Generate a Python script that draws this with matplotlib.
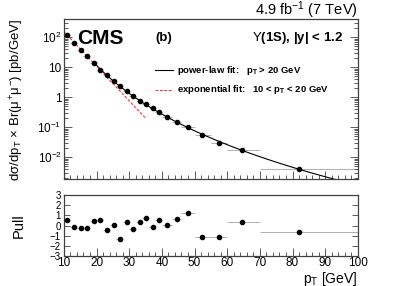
import numpy as np
import matplotlib
matplotlib.use("Agg")
from matplotlib import pyplot as plt
from matplotlib.ticker import MultipleLocator, LogLocator, FuncFormatter, NullFormatter

plt.rcParams['font.family'] = ['Liberation Sans', 'DejaVu Sans']
plt.rcParams['mathtext.fontset'] = 'custom'
plt.rcParams['mathtext.rm'] = 'Liberation Sans'
plt.rcParams['mathtext.it'] = 'Liberation Sans'
plt.rcParams['mathtext.bf'] = 'Liberation Sans:bold'

# bins and measured points
bin_edges = [10, 12, 14, 16, 18, 20, 22, 24, 26, 28, 30, 32, 34, 36, 38, 40,
             43, 46, 50, 55, 60, 70, 100]
pt_mean = [11.1, 13.2, 15.2, 17.2, 19.2, 21.2, 23.2, 25.2, 27.2, 29.2, 31.2,
           33.2, 35.2, 37.2, 39.2, 41.6, 44.5, 48.0, 52.4, 57.4, 64.5, 81.9]
xsec = [120, 63, 39, 23, 13.6, 8.2, 5.4, 3.5, 2.3, 1.58, 1.08, 0.78, 0.60,
        0.43, 0.32, 0.215, 0.147, 0.10, 0.054, 0.031, 0.018, 0.0042]
pull = [0.52, -0.12, -0.28, -0.28, 0.42, 0.52, -0.45, 0.05, -1.37, 0.38,
        -0.38, 0.38, 0.75, -0.12, 0.52, 0.05, 0.62, 1.27, -1.1, -1.15, 0.38, -0.6]

pt = np.array(pt_mean)
y = np.array(xsec)
edges = np.array(bin_edges)
xlo = pt - edges[:-1]
xhi = edges[1:] - pt

# fits to the points
exp_sel = pt < 20
exp_par = np.polyfit(pt[exp_sel], np.log(y[exp_sel]), 1)
pow_sel = pt > 20
pow_par = np.polyfit(np.log(pt[pow_sel]), np.log(y[pow_sel]), 2)
x_exp = np.linspace(10, 35, 100)
x_pow = np.linspace(20, 100, 300)

fig = plt.figure(figsize=(3.99, 2.86), dpi=100)
ax = fig.add_axes([0.160, 0.374, 0.737, 0.559])
axp = fig.add_axes([0.160, 0.105, 0.737, 0.213])

frame_col = '#404040'
err_col = '#b0b0b0'

ax.plot(x_pow, np.exp(np.polyval(pow_par, np.log(x_pow))), color='black', lw=0.8, zorder=2)
ax.plot(x_exp, np.exp(np.polyval(exp_par, x_exp)), color='#ff3030', lw=0.8, ls=(0, (2.5, 1.5)), zorder=2)
ax.errorbar(pt, y, xerr=[xlo, xhi], fmt='none', ecolor=err_col, elinewidth=0.7, zorder=1)
ax.plot(pt, y, 'o', color='black', ms=3, zorder=3)

ax.set_xlim(10, 100)
ax.set_yscale('log')
ax.set_ylim(1.9e-3, 4e2)

def log_fmt(v, pos):
    e = int(round(np.log10(v)))
    if e == 0:
        return '1'
    if e == 1:
        return '10'
    return r'$10^{%d}$' % e

ax.yaxis.set_major_locator(LogLocator(base=10, numticks=10))
ax.yaxis.set_major_formatter(FuncFormatter(log_fmt))
ax.yaxis.set_minor_locator(LogLocator(base=10, subs=np.arange(2, 10), numticks=20))
ax.yaxis.set_minor_formatter(NullFormatter())
ax.xaxis.set_major_locator(MultipleLocator(10))
ax.xaxis.set_minor_locator(MultipleLocator(2))
ax.tick_params(axis='x', labelbottom=False)

axp.errorbar(pt, pull, xerr=[xlo, xhi], fmt='none', ecolor=err_col, elinewidth=0.7, zorder=1)
axp.plot(pt, pull, 'o', color='black', ms=3, zorder=3)
axp.set_xlim(10, 100)
axp.set_ylim(-3, 3)
axp.yaxis.set_major_locator(MultipleLocator(1))
axp.xaxis.set_major_locator(MultipleLocator(10))
axp.xaxis.set_minor_locator(MultipleLocator(2))

for a in (ax, axp):
    a.tick_params(which='both', direction='in', right=True, top=False, colors=frame_col,
                  labelcolor='black', labelsize=8.5, width=0.6, pad=1.5)
    a.tick_params(which='major', length=6)
    a.tick_params(which='minor', length=3)
    for s in a.spines.values():
        s.set_color(frame_col)
        s.set_linewidth(0.9)
axp.tick_params(axis='y', which='major', length=4, labelsize=7, pad=2)
axp.tick_params(axis='x', pad=1)

ax.set_ylabel(r'd$\sigma$/dp$_{\rm T}$ $\times$ Br($\mu^{+}\mu^{-}$) [pb/GeV]', fontsize=9.5)
ax.yaxis.set_label_coords(-0.13, 1.0)
ax.yaxis.label.set_horizontalalignment('right')
axp.set_ylabel('Pull', fontsize=10.5)
axp.yaxis.set_label_coords(-0.13, 0.5)
axp.set_xlabel(r'p$_{\rm T}$ [GeV]', fontsize=10)
axp.xaxis.set_label_coords(1.0, -0.37)
axp.xaxis.label.set_horizontalalignment('right')
axp.xaxis.label.set_verticalalignment('center')

fig.text(0.897, 0.965, r'4.9 fb$^{-1}$ (7 TeV)', ha='right', va='center', fontsize=10.5)
ax.text(0.045, 0.94, 'CMS', transform=ax.transAxes, fontsize=15, fontweight='bold', va='top')
ax.text(0.31, 0.88, '(b)', transform=ax.transAxes, fontsize=9.5, fontweight='bold', va='center')
ax.text(0.95, 0.885, r'$\Upsilon$(1S), |y| < 1.2', transform=ax.transAxes, fontsize=9.5,
        fontweight='bold', ha='right', va='center')

# legend entries
ax.plot([0.31, 0.37], [0.68, 0.68], transform=ax.transAxes, color='black', lw=0.8)
ax.text(0.385, 0.68, r'power-law fit:   p$_{\bf T}$ > 20 GeV', transform=ax.transAxes,
        fontsize=6.8, fontweight='bold', va='center')
ax.plot([0.31, 0.37], [0.56, 0.56], transform=ax.transAxes, color='#ff3030', lw=0.8,
        ls=(0, (2.5, 1.5)))
ax.text(0.385, 0.56, r'exponential fit:   10 < p$_{\bf T}$ < 20 GeV', transform=ax.transAxes,
        fontsize=6.8, fontweight='bold', va='center')

fig.savefig('out.png', dpi=100)
